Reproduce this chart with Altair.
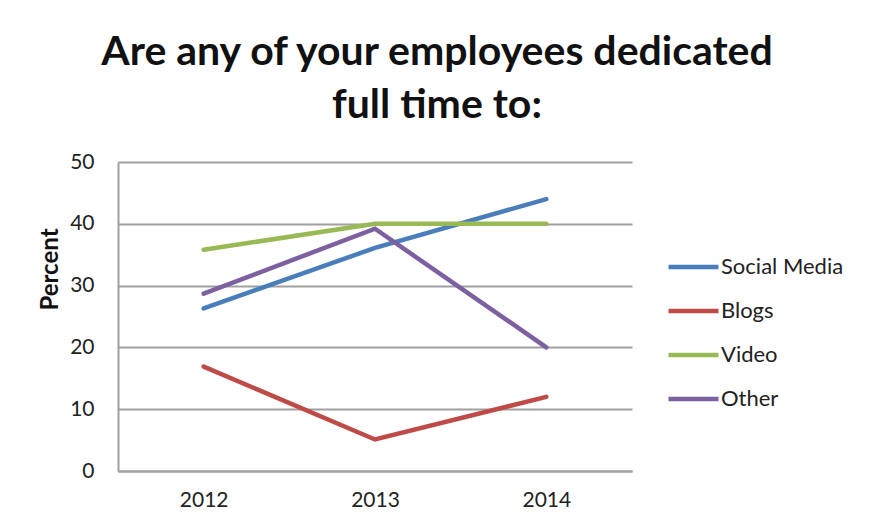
import altair as alt
import pandas as pd

years = ["2012", "2013", "2014"]
series = ["Social Media", "Blogs", "Video", "Other"]
social_media = [26.3, 36.1, 44.0]
blogs = [16.9, 5.1, 12.0]
video = [35.8, 40.0, 40.0]
other = [28.7, 39.2, 20.0]
colors = ["#4a7ebb", "#be4b48", "#98b954", "#7d60a0"]

rows = []
for name, vals in zip(series, [social_media, blogs, video, other]):
    for y, v in zip(years, vals):
        rows.append({"Year": y, "Series": name, "Percent": v})
df = pd.DataFrame(rows)

FONT = "Lato"

chart = (
    alt.Chart(df)
    .mark_line(strokeWidth=4.5, strokeCap="round", strokeJoin="miter")
    .encode(
        x=alt.X(
            "Year:O",
            scale=alt.Scale(type="point", padding=0.5),
            axis=alt.Axis(
                title=None,
                labelAngle=0,
                ticks=False,
                grid=False,
                domainColor="#a0a0a0",
                domainWidth=2,
                labelFont=FONT,
                labelFontSize=21,
                labelColor="#222222",
                labelPadding=18,
            ),
        ),
        y=alt.Y(
            "Percent:Q",
            scale=alt.Scale(domain=[0, 50], nice=False),
            axis=alt.Axis(
                title="Percent",
                values=[0, 10, 20, 30, 40, 50],
                ticks=False,
                grid=True,
                gridColor="#a0a0a0",
                gridWidth=2,
                domainColor="#a0a0a0",
                domainWidth=2,
                labelFont=FONT,
                labelFontSize=21,
                labelColor="#222222",
                labelPadding=24,
                titleFont=FONT,
                titleFontSize=24,
                titleFontWeight="bold",
                titleColor="#111111",
                titleX=-68,
                titleY=107,
                titleAngle=270,
                titleAlign="center",
                titleBaseline="middle",
            ),
        ),
        color=alt.Color(
            "Series:N",
            scale=alt.Scale(domain=series, range=colors),
            sort=series,
            legend=alt.Legend(
                title=None,
                orient="none",
                legendX=548,
                legendY=85,
                symbolType="stroke",
                symbolSize=2500,
                symbolStrokeWidth=4.5,
                clipHeight=40,
                rowPadding=4,
                labelFont=FONT,
                labelFontSize=22,
                labelColor="#222222",
                labelOffset=0,
                padding=0,
            ),
        ),
    )
    .properties(
        width=514,
        height=309,
        title=alt.TitleParams(
            text=["Are any of your employees dedicated", "full time to:"],
            font=FONT,
            fontSize=41,
            fontWeight="bold",
            color="#111111",
            anchor="middle",
            dx=62,
            offset=24,
            lineHeight=53,
        ),
        autosize=alt.AutoSizeParams(type="none"),
        padding={"left": 118, "top": 162, "right": 237, "bottom": 58},
        background="white",
    )
    .configure_view(stroke=None)
)

chart.save("out.html", embed_options={"renderer": "svg", "actions": False})
